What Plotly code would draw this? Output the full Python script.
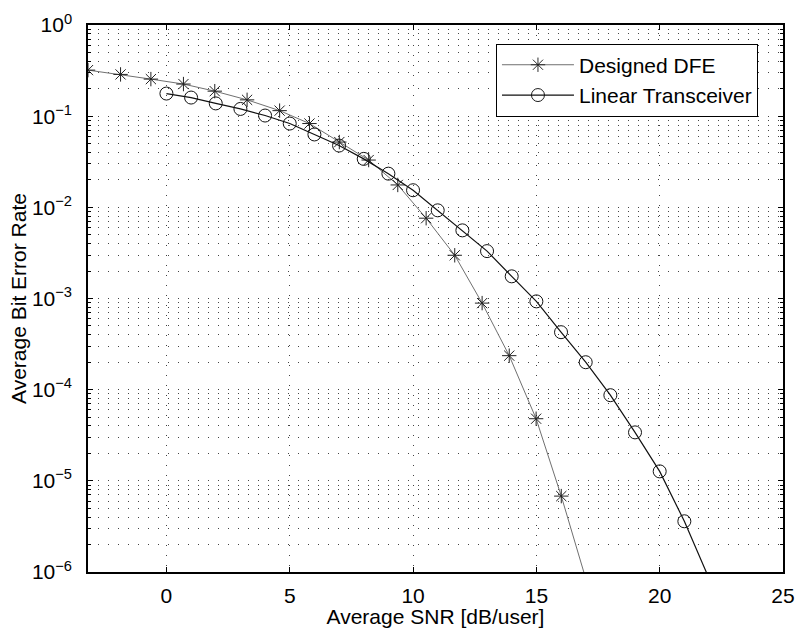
import plotly.graph_objects as go

# Designed DFE (asterisk markers)
dfe_snr = [-3.18, -1.86, -0.63, 0.69, 1.96, 3.27, 4.59, 5.80, 7.01, 8.20,
           9.38, 10.53, 11.69, 12.80, 13.90, 14.99, 16.01, 17.00]
dfe_ber = [0.32, 0.287, 0.255, 0.225, 0.188, 0.151, 0.115, 0.083, 0.052, 0.033,
           0.0176, 0.0076, 0.00298, 0.00089, 0.000236, 4.8e-5, 6.8e-6, 8.5e-7]

# Linear Transceiver (circle markers)
lin_snr = list(range(0, 23))
lin_ber = [0.177, 0.160, 0.138, 0.120, 0.1016, 0.083, 0.063, 0.0476, 0.034, 0.0234,
           0.0154, 0.00927, 0.00559, 0.00331, 0.00175, 0.00093, 0.000427, 0.0002,
           8.7e-5, 3.4e-5, 1.27e-5, 3.6e-6, 8.5e-7]

x_ticks = [0, 5, 10, 15, 20, 25]
y_tickvals = [1, 1e-1, 1e-2, 1e-3, 1e-4, 1e-5, 1e-6]
y_ticktext = ["10<sup>0</sup>", "10<sup>−1</sup>", "10<sup>−2</sup>", "10<sup>−3</sup>",
              "10<sup>−4</sup>", "10<sup>−5</sup>", "10<sup>−6</sup>"]

FONT = "Liberation Sans, Arial, sans-serif"
GRID = "#444444"
DASH = "1px,9px"

fig = go.Figure()
fig.add_trace(go.Scatter(
    x=dfe_snr, y=dfe_ber, mode="lines+markers", name="Designed DFE",
    legendgroup="a",
    line=dict(color="#707070", width=1),
    marker=dict(symbol="asterisk-open", size=12, color="#222222",
                line=dict(width=1, color="#222222"),
                opacity=[1] * (len(dfe_snr) - 1) + [0]),
))
fig.add_trace(go.Scatter(
    x=lin_snr, y=lin_ber, mode="lines+markers", name="Linear Transceiver",
    legendgroup="b",
    line=dict(color="#111111", width=1.2),
    marker=dict(symbol="circle-open", size=13, color="#111111",
                line=dict(width=1, color="#111111"),
                opacity=[1] * (len(lin_snr) - 1) + [0]),
))

fig.update_layout(
    width=797, height=628,
    margin=dict(l=88, r=14, t=25, b=56),
    paper_bgcolor="white", plot_bgcolor="white",
    font=dict(family=FONT, size=21, color="black"),
    showlegend=True,
    legend=dict(
        x=0.587, y=0.966, xanchor="left", yanchor="top",
        bgcolor="white", bordercolor="black", borderwidth=1,
        font=dict(family=FONT, size=21, color="black"),
        tracegroupgap=0, itemwidth=72,
    ),
)

fig.update_xaxes(
    range=[-3.18, 25],
    tickvals=x_ticks, automargin=False,
    ticks="inside", ticklen=5, tickcolor="black",
    showline=True, linecolor="black", linewidth=1.5, mirror="allticks",
    showgrid=True, gridcolor=GRID, gridwidth=1, griddash=DASH,
    zeroline=False, ticklabelstandoff=4,
    tickfont=dict(family=FONT, size=21),
    title=dict(text="Average SNR [dB/user]", font=dict(family=FONT, size=21), standoff=0),
)
fig.update_yaxes(
    type="log", range=[-6, 0], automargin=False,
    tickvals=y_tickvals, ticktext=y_ticktext,
    ticks="inside", ticklen=5, tickcolor="black",
    showline=True, linecolor="black", linewidth=1.5, mirror="allticks",
    showgrid=True, gridcolor=GRID, gridwidth=1, griddash=DASH,
    zeroline=False, ticklabelstandoff=10,
    minor=dict(dtick="D1", ticks="inside", ticklen=3, tickcolor="black",
               showgrid=True, gridcolor=GRID, gridwidth=1, griddash=DASH),
    tickfont=dict(family=FONT, size=21),
    title=dict(text="Average Bit Error Rate", font=dict(family=FONT, size=21), standoff=0),
)

fig.write_html("out.html")
